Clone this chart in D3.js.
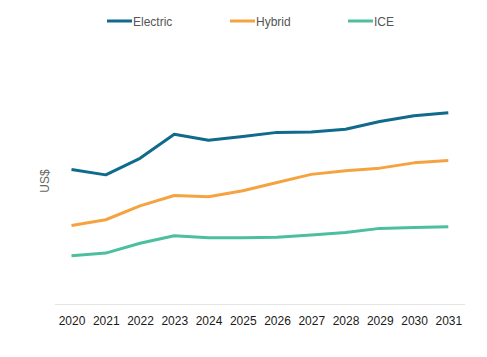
<!DOCTYPE html>
<html><head><meta charset="utf-8">
<script src="https://cdn.jsdelivr.net/npm/d3@7"></script>
<style>body{margin:0;background:#fff}svg{display:block;font-family:"Liberation Sans",Arial,sans-serif}</style>
</head><body>
<svg id="c" width="487" height="357"></svg>
<script>
const years = [2020,2021,2022,2023,2024,2025,2026,2027,2028,2029,2030,2031];
const electric = [55.8,53.6,60.5,70.5,68.0,69.6,71.3,71.5,72.6,75.8,78.2,79.5];
const hybrid = [32.5,34.9,40.7,45.0,44.5,47.0,50.4,53.8,55.3,56.4,58.6,59.6];
const ice = [19.9,21.0,25.1,28.2,27.4,27.4,27.6,28.5,29.6,31.3,31.7,32.0];
const seriesNames = ["Electric","Hybrid","ICE"];
const colors = ["#0f6a8b","#f5a340","#4cbf9e"];
const series = [electric, hybrid, ice];

const svg = d3.select("#c");
const x = d3.scalePoint().domain(years).range([71.5, 448.3]);
const y = d3.scaleLinear().domain([0,100]).range([303.5, 63.5]);

// baseline
svg.append("line").attr("x1",55).attr("x2",465).attr("y1",y(0)+1).attr("y2",y(0)+1)
  .attr("stroke","#e6e6e6").attr("stroke-width",1);

// x axis labels
const xa = svg.append("g").attr("transform",`translate(0,${y(0)+1})`)
  .call(d3.axisBottom(x).tickSize(0).tickPadding(12));
xa.select(".domain").remove();
xa.selectAll("text").attr("font-size",12).attr("fill","#1a1a1a")
  .attr("font-family","'Liberation Sans',Arial,sans-serif").style("font-weight","500");

// y label
svg.append("text").attr("transform","translate(49,181) rotate(-90)")
  .attr("text-anchor","middle").attr("font-size",12).attr("fill","#666").text("US$");

const line = d3.line().x((d,i)=>x(years[i])).y(d=>y(d));
series.forEach((s,k)=>{
  svg.append("path").datum(s).attr("d",line).attr("fill","none")
    .attr("stroke",colors[k]).attr("stroke-width",3).attr("stroke-linejoin","round");
});

// legend
const lx = [107,230,348];
seriesNames.forEach((n,k)=>{
  svg.append("line").attr("x1",lx[k]).attr("x2",lx[k]+25).attr("y1",21).attr("y2",21)
    .attr("stroke",colors[k]).attr("stroke-width",3);
  svg.append("text").attr("x",lx[k]+26).attr("y",25.5).attr("font-size",12)
    .attr("fill","#555").text(n);
});
</script>
</body></html>
